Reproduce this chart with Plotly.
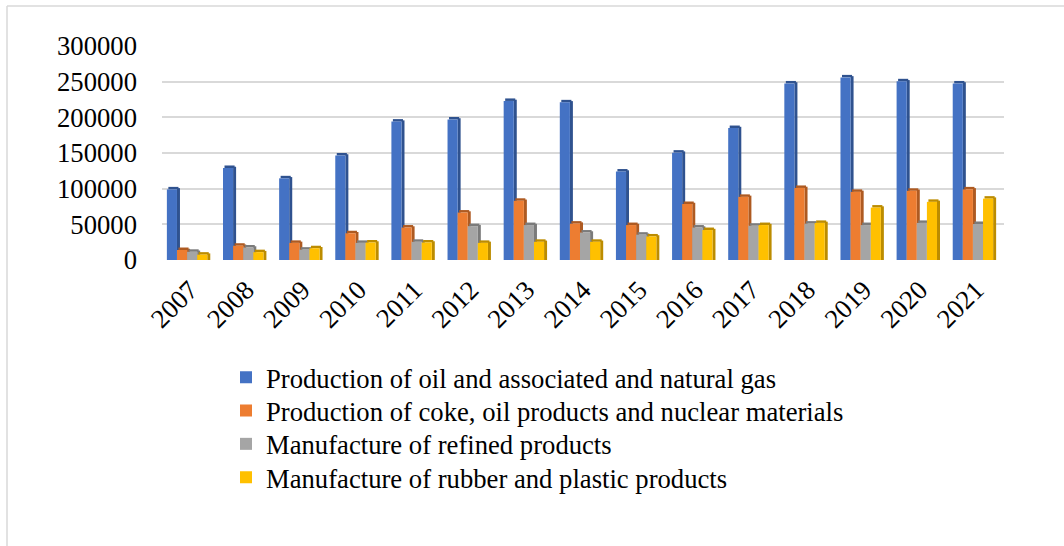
import plotly.graph_objects as go

years = ["2007", "2008", "2009", "2010", "2011", "2012", "2013", "2014",
         "2015", "2016", "2017", "2018", "2019", "2020", "2021"]

oil_gas = [99000, 129000, 114500, 146500, 194000, 197000, 223000, 221000,
           124000, 150500, 185000, 247500, 256000, 250500, 247500]
coke_oil_nuclear = [14000, 20000, 24000, 37500, 45500, 66500, 83000, 51000,
                    49000, 78500, 88500, 101000, 95500, 97000, 99000]
refined = [11500, 17500, 14500, 24000, 25500, 47500, 49000, 38500,
           35500, 45500, 48000, 51000, 49000, 52000, 50500]
rubber_plastic = [7500, 11000, 16500, 24500, 24500, 24000, 25500, 25500,
                  33000, 42000, 49000, 52000, 73500, 81500, 86000]

series_names = [
    "Production of oil and associated and natural gas",
    "Production of coke, oil products and nuclear materials",
    "Manufacture of refined products",
    "Manufacture of rubber and plastic products",
]
series_values = [oil_gas, coke_oil_nuclear, refined, rubber_plastic]
front_colors = ["#4472C4", "#ED7D31", "#A5A5A5", "#FFC000"]
dark_colors = ["#2F528F", "#AE5A21", "#7B7B7B", "#BC8C00"]

y_ticks = [0, 50000, 100000, 150000, 200000, 250000, 300000]

# layout geometry (pixels)
W, H = 1064, 546
ML, MR, MT, MB = 162, 60, 46, 286
plot_w = W - ML - MR
plot_h = H - MT - MB
y_max = 300000

cat_px = plot_w / len(years)
bar_w = 10.1 / cat_px
side_w = 3.0 / cat_px
group_start = -(4 * bar_w + side_w) / 2 - 1.5 / cat_px
depth_val = 2.5 * y_max / plot_h

legend_ids = ["legend", "legend2", "legend3", "legend4"]

fig = go.Figure()

for i, (name, vals) in enumerate(zip(series_names, series_values)):
    off = group_start + i * bar_w
    # side face
    fig.add_trace(go.Bar(
        x=years, y=[v + depth_val * 0.5 for v in vals],
        offset=off + bar_w, width=side_w,
        marker=dict(color=dark_colors[i], line=dict(width=0)),
        showlegend=False, hoverinfo="skip",
    ))
    # top face
    fig.add_trace(go.Bar(
        x=years, y=[depth_val] * len(vals), base=vals,
        offset=off + side_w * 0.5, width=bar_w,
        marker=dict(color=dark_colors[i], line=dict(width=0)),
        showlegend=False, hoverinfo="skip",
    ))
    # front face
    fig.add_trace(go.Bar(
        x=years, y=vals, name=name,
        offset=off, width=bar_w,
        marker=dict(color=front_colors[i], line=dict(width=0)),
        legend=legend_ids[i], showlegend=True,
    ))

def px_to_paper_x(px):
    return (px - ML) / plot_w

def px_to_paper_y(py):
    return (H - MB - py) / plot_h

# chart-area border (left and top edges visible)
border = dict(color="#d9d9d9", width=1.5)
fig.add_shape(type="line", xref="paper", yref="paper",
              x0=px_to_paper_x(7), x1=px_to_paper_x(7),
              y0=px_to_paper_y(6), y1=px_to_paper_y(560), line=border)
fig.add_shape(type="line", xref="paper", yref="paper",
              x0=px_to_paper_x(7), x1=px_to_paper_x(1070),
              y0=px_to_paper_y(6), y1=px_to_paper_y(6), line=border)

font_family = "Liberation Serif, Times New Roman, serif"
FS = 26.67

legend_tops = [353.3, 386.7, 420.0, 453.3]
legend_layouts = {}
for lid, top in zip(legend_ids, legend_tops):
    legend_layouts[lid] = dict(
        x=px_to_paper_x(226), y=px_to_paper_y(top),
        xanchor="left", yanchor="top",
        font=dict(family=font_family, size=FS, color="black"),
        bgcolor="rgba(0,0,0,0)",
        itemwidth=30,
    )

fig.update_layout(
    width=W, height=H,
    margin=dict(l=ML, r=MR, t=MT, b=MB, autoexpand=False),
    barmode="overlay",
    paper_bgcolor="white",
    plot_bgcolor="white",
    font=dict(family=font_family, size=FS, color="black"),
    xaxis=dict(
        type="category",
        range=[-0.5, len(years) - 0.5],
        tickangle=-45,
        showgrid=False,
        showline=False,
        ticks="",
        zeroline=False,
        tickfont=dict(family=font_family, size=FS, color="black"),
        ticklabelstandoff=8,
    ),
    yaxis=dict(
        range=[0, y_max],
        tickvals=y_ticks,
        ticktext=[str(v) for v in y_ticks],
        showgrid=True,
        gridcolor="#d9d9d9",
        gridwidth=2,
        zeroline=False,
        showline=False,
        ticks="",
        tickfont=dict(family=font_family, size=FS, color="black"),
        ticklabelstandoff=24,
    ),
    showlegend=True,
    **legend_layouts,
)

fig.write_html("out.html",
               config={"displayModeBar": False},
               post_script="document.body.style.margin='0';document.body.style.overflow='hidden';")
